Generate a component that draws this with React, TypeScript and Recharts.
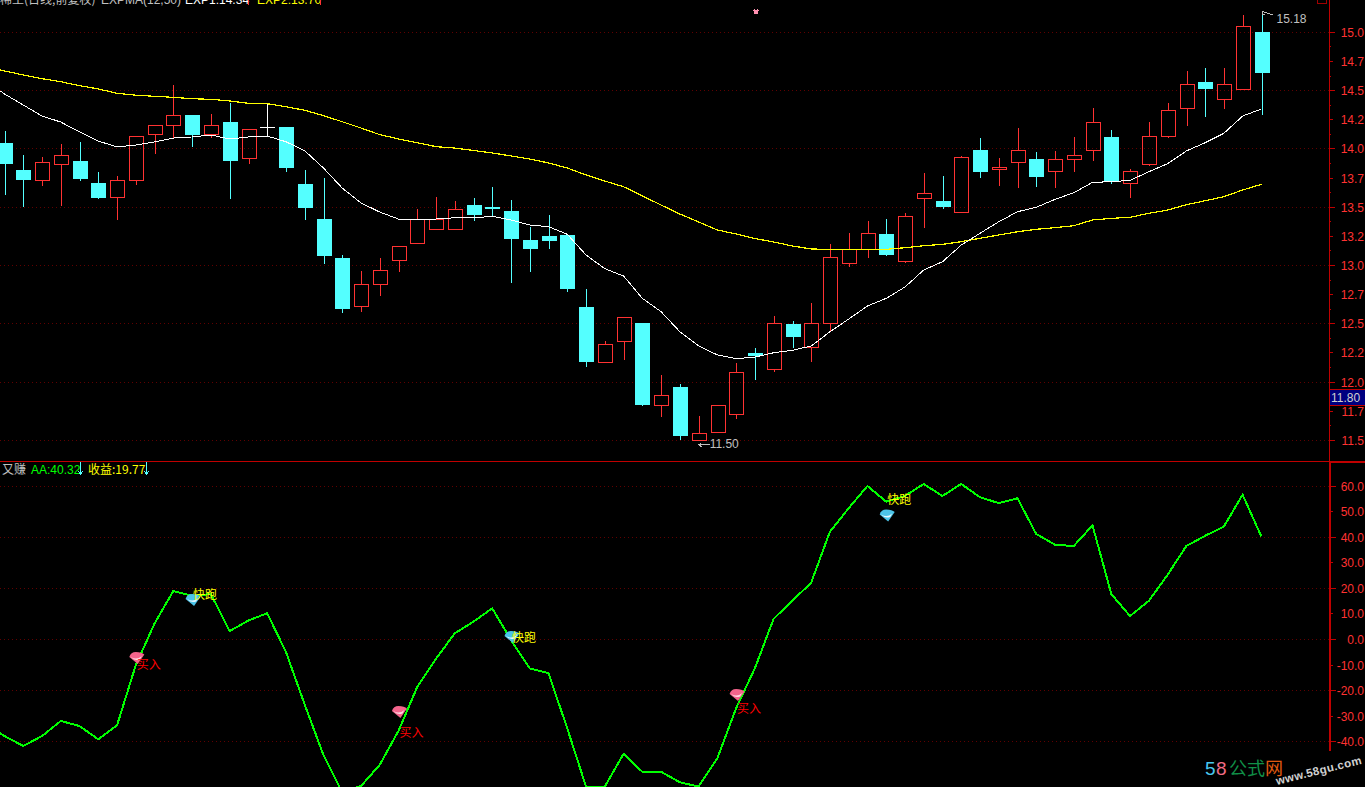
import { Bar, CartesianGrid, ComposedChart, Line, ReferenceDot, ReferenceLine, Scatter, XAxis, YAxis } from 'recharts';

const FONT = '"Liberation Sans", "Noto Sans CJK SC", sans-serif';
const CJK = '"Noto Sans CJK SC", "Liberation Sans", sans-serif';
const RED = '#ff3232';
const CYAN = '#54ffff';
const AXIS = '#c00000';
const GRID = '#600000';

const opens = [14.05, 13.82, 13.73, 13.87, 13.9, 13.71, 13.58, 13.73, 14.12, 14.2, 14.29, 14.12, 14.23, 13.92, 14.18, 14.19, 13.7, 13.4, 13.06, 12.65, 12.84, 13.04, 13.19, 13.31, 13.31, 13.52, 13.5, 13.47, 13.22, 13.25, 13.26, 12.64, 12.17, 12.35, 12.51, 11.8, 11.96, 11.5, 11.57, 11.72, 12.25, 12.11, 12.5, 12.3, 12.5, 13.02, 13.14, 13.27, 13.03, 13.57, 13.55, 13.45, 13.99, 13.82, 13.88, 13.91, 13.81, 13.91, 13.99, 14.1, 13.7, 13.87, 14.11, 14.35, 14.57, 14.42, 14.51, 15.0];
const closes = [13.87, 13.73, 13.88, 13.94, 13.74, 13.58, 13.73, 14.11, 14.2, 14.29, 14.12, 14.2, 13.9, 14.17, 14.18, 13.84, 13.49, 13.08, 12.63, 12.84, 12.96, 13.16, 13.39, 13.39, 13.48, 13.43, 13.48, 13.23, 13.14, 13.21, 12.8, 12.17, 12.32, 12.55, 11.8, 11.88, 11.54, 11.56, 11.8, 12.08, 12.22, 12.5, 12.39, 12.5, 13.07, 13.14, 13.27, 13.09, 13.42, 13.62, 13.5, 13.93, 13.8, 13.84, 13.99, 13.76, 13.91, 13.94, 14.23, 13.72, 13.81, 14.11, 14.33, 14.55, 14.51, 14.55, 15.05, 14.65];
const highs = [14.15, 13.95, 13.93, 14.04, 14.06, 13.8, 13.77, 14.11, 14.2, 14.55, 14.29, 14.3, 14.39, 14.17, 14.39, 14.19, 13.82, 13.75, 13.09, 12.95, 13.06, 13.17, 13.48, 13.59, 13.55, 13.58, 13.67, 13.56, 13.33, 13.43, 13.26, 12.8, 12.35, 12.55, 12.51, 12.06, 11.98, 11.71, 11.8, 12.16, 12.29, 12.57, 12.52, 12.68, 13.18, 13.28, 13.38, 13.4, 13.45, 13.79, 13.77, 13.94, 14.09, 13.92, 14.18, 13.97, 13.98, 14.1, 14.35, 14.16, 13.83, 14.23, 14.39, 14.67, 14.69, 14.69, 15.15, 15.18];
const lows = [13.6, 13.5, 13.68, 13.51, 13.72, 13.57, 13.39, 13.69, 13.96, 14.09, 14.02, 14.09, 13.57, 13.87, 14.1, 13.8, 13.39, 13.01, 12.59, 12.6, 12.74, 12.94, 13.19, 13.3, 13.31, 13.38, 13.42, 12.85, 12.94, 13.14, 12.77, 12.13, 12.17, 12.19, 11.79, 11.7, 11.5, 11.5, 11.57, 11.68, 12.02, 12.09, 12.29, 12.17, 12.44, 12.99, 13.06, 13.08, 13.02, 13.32, 13.48, 13.45, 13.75, 13.68, 13.66, 13.67, 13.66, 13.8, 13.9, 13.7, 13.58, 13.85, 14.09, 14.2, 14.27, 14.34, 14.51, 14.29];
const exp1 = [14.471, 14.376, 14.282, 14.23, 14.145, 14.067, 14.016, 14.033, 14.059, 14.093, 14.102, 14.119, 14.085, 14.102, 14.11, 14.061, 13.984, 13.836, 13.664, 13.536, 13.458, 13.398, 13.398, 13.398, 13.409, 13.409, 13.421, 13.39, 13.347, 13.332, 13.267, 13.089, 12.972, 12.909, 12.718, 12.603, 12.431, 12.309, 12.232, 12.2, 12.214, 12.251, 12.272, 12.309, 12.431, 12.54, 12.652, 12.718, 12.815, 12.961, 13.032, 13.175, 13.276, 13.375, 13.461, 13.499, 13.567, 13.624, 13.713, 13.718, 13.73, 13.804, 13.873, 13.982, 14.053, 14.134, 14.282, 14.342];
const exp2 = [14.668, 14.634, 14.602, 14.576, 14.542, 14.514, 14.477, 14.46, 14.451, 14.442, 14.43, 14.425, 14.411, 14.391, 14.387, 14.362, 14.331, 14.285, 14.233, 14.179, 14.122, 14.085, 14.053, 14.019, 14.007, 13.986, 13.965, 13.939, 13.913, 13.879, 13.836, 13.776, 13.724, 13.675, 13.596, 13.518, 13.441, 13.373, 13.304, 13.27, 13.231, 13.201, 13.167, 13.141, 13.138, 13.138, 13.138, 13.138, 13.152, 13.169, 13.181, 13.204, 13.233, 13.261, 13.289, 13.31, 13.324, 13.341, 13.39, 13.404, 13.413, 13.447, 13.475, 13.521, 13.555, 13.59, 13.647, 13.696];
const aa = [-37.8, -41.7, -37.8, -31.9, -33.9, -39.1, -33.6, -10, 6.3, 19, 17.1, 17.8, 3.3, 7.4, 10.3, -4.8, -25.4, -45.2, -59.7, -57.4, -49.1, -35.8, -18.6, -7.6, 2.4, 7, 12.2, -0.2, -11.3, -13.2, -34.8, -57.6, -57.6, -44.8, -51.8, -51.8, -55.9, -57.6, -46.5, -26.9, -11.3, 8.1, 15.2, 22.2, 42.2, 51.4, 60.1, 54, 56.2, 60.9, 56.2, 60.9, 55.7, 53.4, 55.3, 41.3, 37.1, 36.6, 44.7, 17.8, 9.2, 15.1, 25.3, 36.6, 40.6, 44.2, 56.7, 40.32];

// values of the three lines one bar before the visible window, so they reach the left edge
const leadIn = { idx: -1, exp1: 14.582, exp2: 14.705, aa: -33.1 };

const mainTicks = [15, 14.875, 14.75, 14.625, 14.5, 14.375, 14.25, 14.125, 14, 13.875, 13.75, 13.625, 13.5, 13.375, 13.25, 13.125, 13, 12.875, 12.75, 12.625, 12.5, 12.375, 12.25, 12.125, 12, 11.875, 11.75, 11.625, 11.5];
const mainGrid = [15, 14.5, 14, 13.5, 13, 12.5, 12, 11.5];
const subTicks = [60, 50, 40, 30, 20, 10, 0, -10, -20, -30, -40];
const subGrid = [60, 40, 20, 0, -20, -40];

const buyIdx = [7, 21, 39];
const buyGem = [-7.2, -28.4, -21.7];
const buyText = [-9.4, -36.3, -26.9];
const sellIdx = [10, 27, 47];
const sellGem = [15.5, 1, 48.6];
const sellText = [17.8, 0.8, 55];

const rows = [leadIn, ...closes.map((close, i) => ({
  idx: i,
  open: opens[i],
  close,
  high: highs[i],
  low: lows[i],
  range: [lows[i], highs[i]],
  exp1: exp1[i],
  exp2: exp2[i],
  aa: aa[i],
}))];

function Candle(props: any) {
  const { x, y, width, height, payload } = props;
  if (payload.open == null) return null;
  const { open, close, high, low } = payload;
  const unit = height / (high - low);
  const cx = Math.round(x + width / 2) + 0.5;
  const top = y + (high - Math.max(open, close)) * unit;
  const bottom = y + (high - Math.min(open, close)) * unit;
  const color = close > open ? RED : close < open ? CYAN : '#ffffff';
  return (
    <g>
      <line x1={cx} x2={cx} y1={y} y2={top} stroke={color} />
      <line x1={cx} x2={cx} y1={bottom} y2={y + height} stroke={color} />
      {close < open ? (
        <rect x={cx - 7.5} y={top} width={15} height={bottom - top} fill={color} />
      ) : close > open ? (
        <rect x={cx - 7} y={top} width={14} height={bottom - top} fill="none" stroke={color} />
      ) : (
        <line x1={cx - 7.5} x2={cx + 7.5} y1={top} y2={top} stroke={color} />
      )}
    </g>
  );
}

function MainTick(props: any) {
  const { x, y, payload } = props;
  const v = payload.value;
  const len = Number.isInteger(v * 2) ? 6 : Number.isInteger(v * 4) ? 4 : 2;
  return (
    <g>
      <line x1={x} x2={x + len} y1={y} y2={y} stroke={AXIS} />
      {Number.isInteger(v * 4) && (
        <text x={1364} y={y + 4.5} textAnchor="end" fontSize={12} fontFamily={FONT} fill={RED}>
          {(Math.floor(v * 10) / 10).toFixed(1)}
        </text>
      )}
    </g>
  );
}

function SubTick(props: any) {
  const { x, y, payload } = props;
  const v = payload.value;
  return (
    <g>
      <line x1={x} x2={x + (v % 20 === 0 ? 6 : 3)} y1={y} y2={y} stroke={AXIS} />
      <text x={1364} y={y + 4.5} textAnchor="end" fontSize={12} fontFamily={FONT} fill={RED}>
        {v.toFixed(1)}
      </text>
    </g>
  );
}

function Gem({ cx, cy, body, shine }: any) {
  const x = cx + 1;
  return (
    <g style={{ shapeRendering: 'auto' }}>
      <path d={`M${x - 7.5},${cy - 1} Q${x - 6},${cy - 6} ${x - 1},${cy - 6} Q${x + 5},${cy - 6} ${x + 7.5},${cy - 3.5} L${x + 1},${cy + 6} Z`} fill={body} />
      <path d={`M${x - 6},${cy - 1} Q${x},${cy + 2.5} ${x + 5},${cy - 2} L${x + 3},${cy + 1.5} Q${x - 2},${cy + 3} ${x - 5},${cy} Z`} fill={shine} />
    </g>
  );
}

function SignalText({ cx, cy, label, color }: any) {
  return (
    <text x={cx + 1} y={cy + 5} fontSize={12} fontFamily={CJK} fill={color}>{label}</text>
  );
}

function DownArrow({ x }: { x: number }) {
  return <path d={`M${x + 0.5},462 V474 M${x - 1.5},471.5 L${x + 0.5},474 L${x + 2.5},471.5`} fill="none" stroke={CYAN} />;
}

const buyGems = buyIdx.map((idx, i) => ({ idx, value: buyGem[i] }));
const sellGems = sellIdx.map((idx, i) => ({ idx, value: sellGem[i] }));
const buyLabels = buyIdx.map((idx, i) => ({ idx, value: buyText[i] }));
const sellLabels = sellIdx.map((idx, i) => ({ idx, value: sellText[i] }));

export default function App() {
  return (
    <div style={{ position: 'absolute', left: 0, top: 0, width: 1365, height: 787, background: '#000', overflow: 'hidden', shapeRendering: 'crispEdges' }}>
      <div style={{ position: 'absolute', left: 0, top: 0 }}>
        <ComposedChart width={1365} height={461} data={rows} margin={{ top: 0, right: 0, bottom: 0, left: 0 }}>
          <CartesianGrid vertical={false} horizontalValues={mainGrid} stroke={GRID} strokeDasharray="1 3" />
          <XAxis type="number" dataKey="idx" domain={[-0.24, 70.6]} allowDataOverflow hide />
          <YAxis orientation="right" width={36} domain={[11.3223, 15.277]} allowDataOverflow ticks={mainTicks} interval={0}
            tick={<MainTick />} tickLine={false} tickSize={0} tickMargin={0} axisLine={{ stroke: AXIS }} />
          <Bar dataKey="range" barSize={15} shape={<Candle />} isAnimationActive={false} />
          <Line dataKey="exp2" stroke="#ffff00" strokeWidth={1.2} dot={false} activeDot={false} isAnimationActive={false} />
          <Line dataKey="exp1" stroke="#ffffff" strokeWidth={1} dot={false} activeDot={false} isAnimationActive={false} />
          <ReferenceDot x={37} y={11.5} r={0} shape={(p: any) => (
            <g>
              <path d={`M${p.cx},${p.cy + 4.5} H${p.cx + 11} M${p.cx + 3},${p.cy + 2.5} L${p.cx},${p.cy + 4.5} L${p.cx + 3},${p.cy + 6.5}`} fill="none" stroke="#c0c0c0" />
              <text x={p.cx + 11} y={p.cy + 8} fontSize={12} fontFamily={FONT} fill="#c0c0c0">11.50</text>
            </g>
          )} />
          <ReferenceDot x={67} y={15.18} r={0} shape={(p: any) => (
            <g>
              <polyline points={`${p.cx + 4},${p.cy + 3} ${p.cx + 1},${p.cy + 3} ${p.cx + 1},${p.cy} ${p.cx + 12},${p.cy + 4}`} fill="none" stroke="#c0c0c0" />
              <text x={p.cx + 15} y={p.cy + 12} fontSize={12} fontFamily={FONT} fill="#c0c0c0">15.18</text>
            </g>
          )} />
        </ComposedChart>
      </div>

      <div style={{ position: 'absolute', left: 0, top: 462 }}>
        <ComposedChart width={1365} height={325} data={rows} margin={{ top: 0, right: 0, bottom: 0, left: 0 }}>
          <CartesianGrid vertical={false} horizontalValues={subGrid} stroke={GRID} strokeDasharray="1 3" />
          <XAxis type="number" dataKey="idx" domain={[-0.24, 70.66]} allowDataOverflow hide />
          <YAxis orientation="right" width={35} domain={[-57.75, 69.5]} allowDataOverflow ticks={subTicks} interval={0}
            tick={<SubTick />} tickLine={false} tickSize={0} tickMargin={0} axisLine={false} />
          <ReferenceLine ifOverflow="visible" stroke={AXIS} strokeWidth={2}
            segment={[{ x: 70.66, y: 69.5 }, { x: 70.66, y: -43.6 }]} />
          <Line dataKey="aa" stroke="#00ff00" strokeWidth={2} dot={false} activeDot={false} isAnimationActive={false} />
          <Scatter data={buyGems} dataKey="value" isAnimationActive={false}
            shape={(p: any) => <Gem cx={p.cx} cy={p.cy} body="#f4648c" shine="#ffd8e4" />} />
          <Scatter data={sellGems} dataKey="value" isAnimationActive={false}
            shape={(p: any) => <Gem cx={p.cx} cy={p.cy} body="#4cc4e8" shine="#e4f8ff" />} />
          <Scatter data={buyLabels} dataKey="value" isAnimationActive={false}
            shape={(p: any) => <SignalText cx={p.cx} cy={p.cy} label="买入" color="#ff0000" />} />
          <Scatter data={sellLabels} dataKey="value" isAnimationActive={false}
            shape={(p: any) => <SignalText cx={p.cx} cy={p.cy} label="快跑" color="#ffff00" />} />
        </ComposedChart>
      </div>

      <svg width={1365} height={787} style={{ position: 'absolute', left: 0, top: 0, pointerEvents: 'none' }}>
        <line x1={0} x2={1330} y1={461.5} y2={461.5} stroke={AXIS} />
        <rect x={1330} y={461} width={35} height={2} fill={AXIS} />
        <rect x={1317.5} y={-2} width={9} height={5} fill="none" stroke="#a00000" />
        <path d="M754,10 L758,14 M758,10 L754,14" stroke="#ff90b0" strokeWidth={1.5} />

        <text x={0} y={4} fontSize={12} fontFamily={CJK} fill="#c0c0c0">稀土(日线,前复权)</text>
        <text x={101} y={4} fontSize={12} fontFamily={FONT} fill="#c0c0c0">EXPMA(12,50)</text>
        <text x={185} y={4} fontSize={12} fontFamily={FONT} fill="#ffffff">EXP1:14.34</text>
        <rect x={248} y={0} width={1} height={5} fill={RED} />
        <text x={257} y={4} fontSize={12} fontFamily={FONT} fill="#ffff00">EXP2:13.70</text>
        <rect x={320} y={0} width={1} height={5} fill={RED} />

        <text x={2} y={474} fontSize={12} fontFamily={CJK} fill="#c0c0c0">又赚</text>
        <text x={31} y={474} fontSize={12} fontFamily={FONT} fill="#00ff00">AA:40.32</text>
        <DownArrow x={80} />
        <text x={88} y={474} fontSize={12} fontFamily={CJK} fill="#ffff00">收益:19.77</text>
        <DownArrow x={146} />

        <rect x={1330} y={389} width={35} height={16} fill="#000080" />
        <line x1={1330} x2={1365} y1={389.5} y2={389.5} stroke={AXIS} />
        <line x1={1330} x2={1365} y1={405.5} y2={405.5} stroke={AXIS} />
        <text x={1331} y={401.5} fontSize={12} fontFamily={FONT} fill="#d0d0d0">11.80</text>

        <g style={{ shapeRendering: 'auto' }}>
          <text x={1205} y={775} fontSize={19} fontFamily={FONT} fill="#48c8f0">5</text>
          <text x={1216} y={775} fontSize={19} fontFamily={FONT} fill="#f06c84">8</text>
          <text x={1229} y={775} fontSize={18} fontFamily={CJK} fill="#109048">公式</text>
          <text x={1265} y={775} fontSize={18} fontFamily={CJK} fill="#e05a10">网</text>
          <text x={1277} y={785} fontSize={11.5} letterSpacing={0.4} fontWeight="bold" fontFamily={FONT} fill="#d0d0d0" transform="rotate(-14 1277 785)">www.58gu.com</text>
        </g>
      </svg>
    </div>
  );
}
